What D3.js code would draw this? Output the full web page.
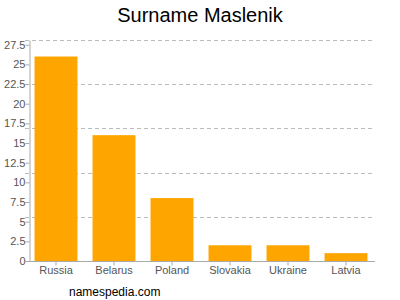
<!DOCTYPE html>
<html><head><meta charset="utf-8">
<script src="https://cdn.jsdelivr.net/npm/d3@7"></script>
<style>body{margin:0;background:#fff}svg{display:block;font-family:"Liberation Sans",Arial,sans-serif}</style>
</head><body><svg id="c" width="400" height="300"></svg>
<script>
const categories = ["Russia","Belarus","Poland","Slovakia","Ukraine","Latvia"];
const values = [26,16,8,2,2,1];
const yTicks = [0,2.5,5,7.5,10,12.5,15,17.5,20,22.5,25,27.5];
const yTickLabels = ["0","2.5","5","7.5","10","12.5","15","17.5","20","22.5","25","27.5"];

(function(){
const svg = d3.select("#c");
const pl = 29, pr = 375, pt = 40, pb = 261;
const y = d3.scaleLinear().domain([0, 28.1]).range([pb, pt]);
const x = d3.scaleBand().domain(categories).range([27, 375]).paddingInner(0.26).paddingOuter(0.13);

const gridYs = d3.range(0, 5).map(i => pt + i * (pb - pt) / 5);
svg.append("g").selectAll("line").data(gridYs).join("line")
  .attr("x1", pl - 4).attr("x2", pr).attr("y1", d => Math.round(d) + 0.5).attr("y2", d => Math.round(d) + 0.5)
  .attr("stroke", "#bbb").attr("stroke-dasharray", "4,3").attr("stroke-width", 1);

svg.append("g").selectAll("rect").data(values).join("rect")
  .attr("x", (d, i) => x(categories[i])).attr("width", x.bandwidth())
  .attr("y", d => y(d)).attr("height", d => y(0) - y(d))
  .attr("fill", "#ffa500");

const ya = svg.append("g").attr("transform", `translate(${pl + 0.5},0)`)
  .call(d3.axisLeft(y).tickValues(yTicks).tickFormat((d, i) => yTickLabels[i]).tickSize(4).tickSizeOuter(0));
ya.select(".domain").attr("stroke", "#aaa");
ya.selectAll(".tick line").attr("stroke", "#aaa");
ya.selectAll("text").attr("fill", "#555").attr("font-size", 11).attr("font-family", "Liberation Sans, Arial, sans-serif").attr("x", -4);

const xa = svg.append("g").attr("transform", `translate(0,${pb + 0.5})`)
  .call(d3.axisBottom(x).tickSize(4).tickSizeOuter(0));
xa.select(".domain").attr("stroke", "#aaa").attr("d", `M${pl},0H${pr}`);
xa.selectAll(".tick line").attr("stroke", "#aaa");
xa.selectAll("text").attr("fill", "#555").attr("font-size", 11).attr("font-family", "Liberation Sans, Arial, sans-serif").attr("dy", "0.95em").attr("y", 2);

svg.append("text").attr("x", 200).attr("y", 22).attr("text-anchor", "middle")
  .attr("font-size", 20).attr("fill", "#000").text("Surname Maslenik");
svg.append("text").attr("x", 69).attr("y", 296).attr("font-size", 12).attr("fill", "#000").text("namespedia.com");
})();
</script></body></html>
